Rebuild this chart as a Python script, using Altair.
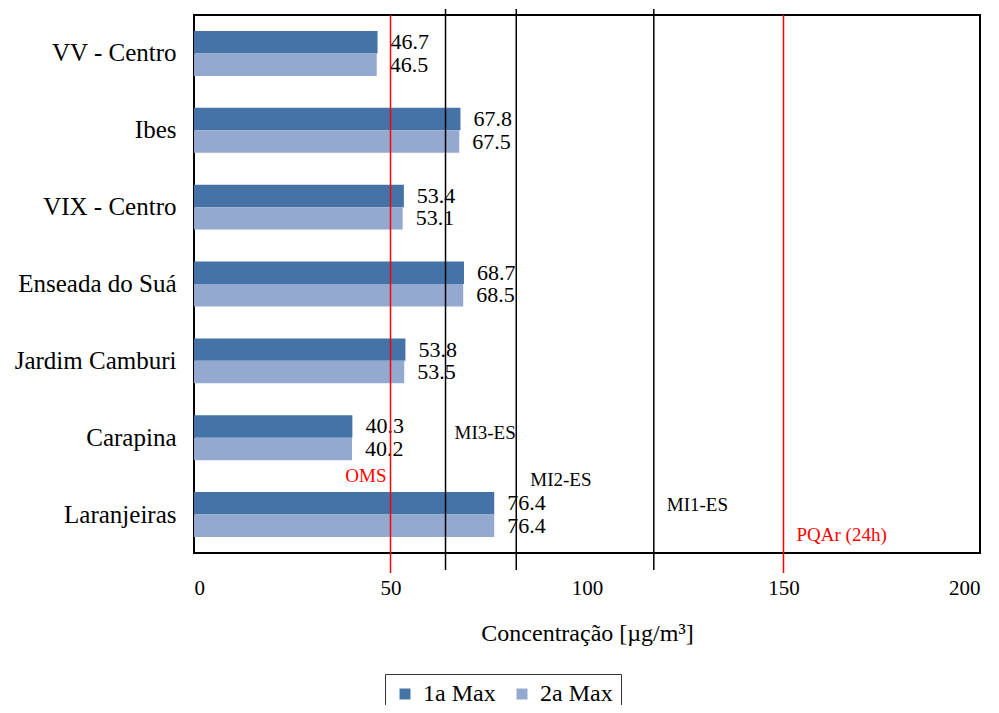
import altair as alt
import pandas as pd

categories = ["VV - Centro", "Ibes", "VIX - Centro", "Enseada do Suá",
              "Jardim Camburi", "Carapina", "Laranjeiras"]
max1 = [46.7, 67.8, 53.4, 68.7, 53.8, 40.3, 76.4]
max2 = [46.5, 67.5, 53.1, 68.5, 53.5, 40.2, 76.4]
series_names = ["1a Max", "2a Max"]
series_colors = ["#4573A7", "#94A9D0"]

red_lines = [50, 150]
red_names = ["OMS", "PQAr  (24h)"]
black_lines = [64, 82, 117]
black_names = ["MI3-ES", "MI2-ES", "MI1-ES"]
x_ticks = [0, 50, 100, 150, 200]

FONT = "Liberation Serif"
W, H = 786, 538

rows = []
for c, a, b in zip(categories, max1, max2):
    rows.append({"Estação": c, "Série": series_names[0], "Valor": a})
    rows.append({"Estação": c, "Série": series_names[1], "Valor": b})
df = pd.DataFrame(rows)

xscale = alt.Scale(domain=[0, 200], nice=False, zero=True)
yscale = alt.Scale(paddingInner=0.415, paddingOuter=0.2075)

base = alt.Chart(df)

bars = base.mark_bar().encode(
    x=alt.X("Valor:Q", scale=xscale,
            axis=alt.Axis(values=x_ticks, grid=False, ticks=False, domain=False,
                          labelFont=FONT, labelFontSize=21, labelColor="black",
                          labelPadding=24, title="Concentração [µg/m³]",
                          titleFont=FONT, titleFontSize=24, titleFontWeight="normal",
                          titleColor="black", titlePadding=23)),
    y=alt.Y("Estação:N", sort=categories, scale=yscale,
            axis=alt.Axis(title=None, ticks=False, domain=False, grid=False,
                          labelFont=FONT, labelFontSize=25, labelColor="black",
                          labelPadding=18, labelLimit=300)),
    yOffset=alt.YOffset("Série:N", sort=series_names),
    color=alt.Color("Série:N", sort=series_names,
                    scale=alt.Scale(domain=series_names, range=series_colors),
                    legend=alt.Legend(title=None, orient="none", direction="horizontal",
                                      legendX=191, legendY=659,
                                      labelFont=FONT, labelFontSize=24, labelColor="black",
                                      symbolType="square", symbolSize=120,
                                      symbolStrokeWidth=0, strokeColor="#333333",
                                      padding=8, columnPadding=14, labelOffset=6,
                                      fillColor="white")),
)

labels = base.mark_text(align="left", baseline="middle", dx=13,
                        font=FONT, fontSize=22, color="black").encode(
    x=alt.X("Valor:Q", scale=xscale),
    y=alt.Y("Estação:N", sort=categories, scale=yscale),
    yOffset=alt.YOffset("Série:N", sort=series_names),
    text=alt.Text("Valor:Q", format=".1f"),
)

red_df = pd.DataFrame({"v": red_lines, "n": red_names})
black_df = pd.DataFrame({"v": black_lines, "n": black_names})

red_rules = alt.Chart(red_df).mark_rule(color="#FF0000", strokeWidth=1.5).encode(
    x=alt.X("v:Q", scale=xscale), y=alt.value(0), y2=alt.value(H + 20))
black_rules = alt.Chart(black_df).mark_rule(color="black", strokeWidth=1.5).encode(
    x=alt.X("v:Q", scale=xscale), y=alt.value(-6), y2=alt.value(H + 17))

def note(df_, name, color, align, dx, ypix):
    return alt.Chart(df_).transform_filter(alt.datum.n == name).mark_text(
        align=align, baseline="middle", dx=dx, font=FONT, fontSize=19, color=color
    ).encode(x=alt.X("v:Q", scale=xscale), y=alt.value(ypix), text="n:N")

notes = [
    note(red_df, "OMS", "#FF0000", "right", -4, 461),
    note(red_df, "PQAr  (24h)", "#FF0000", "left", 13, 520),
    note(black_df, "MI3-ES", "black", "left", 9, 418),
    note(black_df, "MI2-ES", "black", "left", 14, 465),
    note(black_df, "MI1-ES", "black", "left", 13, 490),
]

chart = alt.layer(bars, labels, red_rules, black_rules, *notes).properties(
    width=W, height=H,
    autosize=alt.AutoSizeParams(type="none"),
    padding={"left": 186, "top": 7, "right": 11, "bottom": 152},
).configure(background="white", font=FONT).configure_view(stroke="black", strokeWidth=2)

chart.save("out.html", embed_options={"renderer": "svg", "actions": False})
